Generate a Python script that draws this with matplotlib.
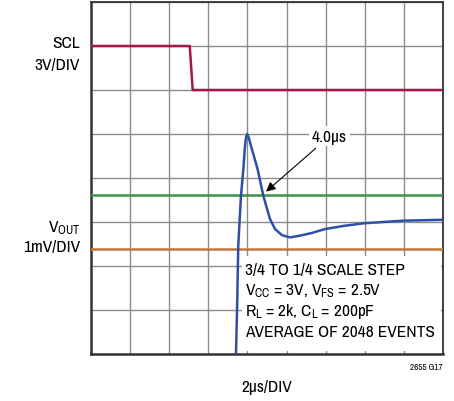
import numpy as np
import matplotlib
matplotlib.use('Agg')
import matplotlib.pyplot as plt
from matplotlib.patches import Rectangle

plt.rcParams['font.family'] = ['Archivo Narrow', 'Liberation Sans', 'DejaVu Sans']
plt.rcParams['mathtext.fontset'] = 'custom'
plt.rcParams['mathtext.rm'] = 'Archivo Narrow'

# time axis in us (2us/DIV, 9 divisions), vertical axis in divisions (8)
scl_t = [0.0, 5.05, 5.2, 18.0]
scl_v = [7.0, 7.0, 6.0, 6.0]

vout_t = [7.415, 7.48, 7.53, 7.67, 7.79, 7.875, 7.93, 7.99, 8.06, 8.18, 8.52,
          8.81, 9.15, 9.41, 9.77, 10.18, 10.69, 11.29, 11.97, 12.9, 13.93,
          14.95, 15.97, 17.0, 17.93]
vout_v = [0.0, 1.25, 2.46, 3.60, 4.20, 4.73, 4.93, 5.0, 4.93, 4.73, 4.20,
          3.60, 3.07, 2.84, 2.70, 2.65, 2.69, 2.75, 2.84, 2.91, 2.97,
          3.0, 3.03, 3.04, 3.05]

band_hi = 3.61
band_lo = 2.39

note_lines = [r'3/4 TO 1/4 SCALE STEP',
              r'$\mathregular{V_{CC}}$ = 3V, $\mathregular{V_{FS}}$ = 2.5V',
              r'$\mathregular{R_L}$ = 2k, $\mathregular{C_L}$ = 200pF',
              r'AVERAGE OF 2048 EVENTS']

fig = plt.figure(figsize=(4.54, 4.02), dpi=100)
ax = fig.add_axes([91/454, 1 - 355/402, 352/454, 352/402])
ax.set_xlim(0, 18)
ax.set_ylim(0, 8)
ax.set_xticks(np.arange(0, 19, 2))
ax.set_yticks(np.arange(0, 9, 1))
ax.tick_params(length=0, labelbottom=False, labelleft=False)
ax.grid(True, color='#8c8c8c', lw=1.0)
ax.set_axisbelow(True)
for s in ax.spines.values():
    s.set_color('#333333')
    s.set_linewidth(1.3)
ax.spines['left'].set_linewidth(1.8)
ax.spines['bottom'].set_linewidth(1.8)

ax.axhline(band_hi, color='#3a944a', lw=1.8, zorder=3)
ax.axhline(band_lo, color='#c0783a', lw=1.8, zorder=3)
ax.plot(scl_t, scl_v, color='#a3183f', lw=1.8, zorder=4)
ax.plot(vout_t, vout_v, color='#2e4fa6', lw=1.8, zorder=4, solid_joinstyle='round')

# white box behind the conditions text
ax.add_patch(Rectangle((7.72, 0.07), 10.2, 2.16, facecolor='white',
                       edgecolor='none', zorder=2))
for i, line in enumerate(note_lines):
    ax.text(7.87, 1.93 - i * 0.475, line, fontsize=12.5, va='center',
            ha='left', zorder=5)

ax.annotate('4.0\u00b5s', xy=(8.95, 3.69), xytext=(12.2, 4.95),
            fontsize=12.5, ha='center', va='center', zorder=6,
            bbox=dict(facecolor='white', edgecolor='none', pad=2),
            arrowprops=dict(arrowstyle='-|>', color='black', lw=0.8,
                            mutation_scale=14, shrinkA=2, shrinkB=0))

# channel labels
ax.text(-0.56, 7.09, 'SCL', fontsize=12.5, ha='right', va='center', clip_on=False)
ax.text(-0.56, 6.59, '3V/DIV', fontsize=12.5, ha='right', va='center', clip_on=False)
ax.text(-0.56, 2.89, r'$\mathregular{V_{OUT}}$', fontsize=12.5, ha='right', va='center', clip_on=False)
ax.text(-0.56, 2.45, '1mV/DIV', fontsize=12.5, ha='right', va='center', clip_on=False)

fig.text(267/454, 1 - 388/402, '2\u00b5s/DIV', fontsize=12.5, ha='center', va='center')
fig.text(443/454, 1 - 368/402, '2655 G17', fontsize=6.5, ha='right', va='center')

fig.savefig('out.png', dpi=100)
